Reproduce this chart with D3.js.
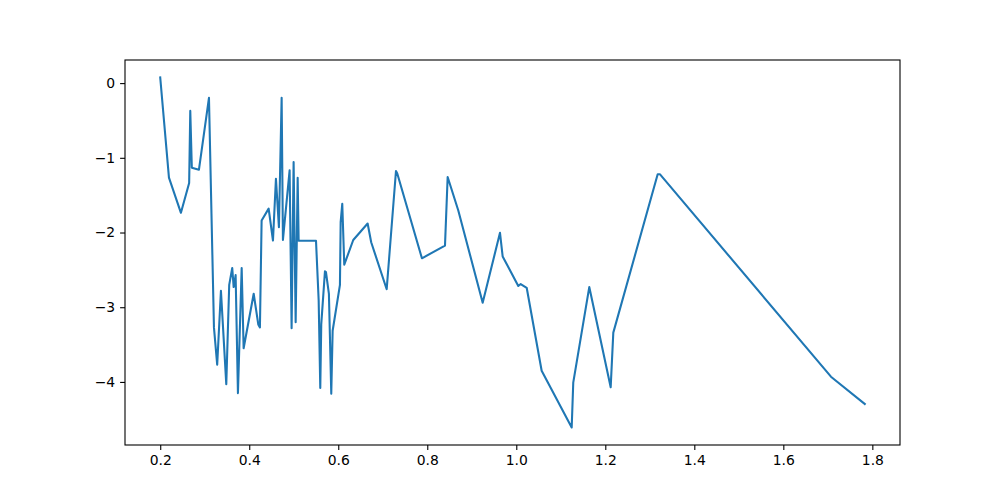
<!DOCTYPE html>
<html><head><meta charset="utf-8">
<script src="https://cdn.jsdelivr.net/npm/d3@7"></script>
<style>body{margin:0;background:#fff}svg{display:block}text{font-family:"DejaVu Sans",sans-serif}</style>
</head><body><svg id="c" width="1000" height="500"></svg>
<script>
const xs = [0.2,0.2196,0.2465,0.265,0.2675,0.271,0.287,0.3095,0.3207,0.328,0.3364,0.3484,0.355,0.3618,0.365,0.3694,0.3746,0.383,0.3874,0.41,0.4203,0.424,0.4278,0.4436,0.4533,0.46,0.4667,0.4728,0.4757,0.4907,0.4952,0.4997,0.5043,0.5088,0.511,0.55,0.556,0.5596,0.5618,0.5701,0.5724,0.579,0.5843,0.5874,0.6038,0.6054,0.609,0.6135,0.6337,0.666,0.674,0.7088,0.7297,0.7326,0.788,0.8398,0.8458,0.8697,0.9245,0.9634,0.9694,1.0045,1.0099,1.0234,1.057,1.1245,1.128,1.164,1.2121,1.218,1.3177,1.323,1.707,1.783];
const ys = [0.075,-1.266,-1.736,-1.338,-0.372,-1.132,-1.159,-0.197,-3.27,-3.77,-2.78,-4.03,-2.70,-2.475,-2.73,-2.57,-4.15,-2.475,-3.55,-2.82,-3.23,-3.27,-1.84,-1.68,-2.107,-1.28,-1.93,-0.197,-2.10,-1.168,-3.28,-1.056,-3.20,-1.266,-2.11,-2.11,-2.91,-4.08,-3.23,-2.52,-2.53,-2.82,-4.157,-3.315,-2.70,-1.86,-1.615,-2.43,-2.10,-1.88,-2.13,-2.76,-1.177,-1.21,-2.345,-2.175,-1.257,-1.705,-2.94,-2.004,-2.32,-2.716,-2.69,-2.74,-3.85,-4.61,-4.01,-2.73,-4.07,-3.34,-1.221,-1.221,-3.93,-4.295];
const xTicks = [0.2,0.4,0.6,0.8,1.0,1.2,1.4,1.6,1.8];
const yTicks = [0,-1,-2,-3,-4];

const L=125,R=900,T=60,B=445;
const svg=d3.select("#c");
const xmin=d3.min(xs),xmax=d3.max(xs),ymin=d3.min(ys),ymax=d3.max(ys);
const xm=(xmax-xmin)*0.05, ym=(ymax-ymin)*0.05;
const x=d3.scaleLinear().domain([xmin-xm,xmax+xm]).range([L,R]);
const y=d3.scaleLinear().domain([ymin-ym,ymax+ym]).range([B,T]);
const data=xs.map((v,i)=>[v,ys[i]]);
svg.append("path").datum(data).attr("fill","none").attr("stroke","#1f77b4").attr("stroke-width",2.08)
  .attr("stroke-linejoin","round").attr("stroke-linecap","square")
  .attr("d",d3.line().x(d=>x(d[0])).y(d=>y(d[1])));
const fmtX=d=>d3.format(".1f")(d);
const fmtY=d=>(d<0?"\u2212":"")+Math.abs(d);
const gx=svg.append("g").attr("transform",`translate(0,${B})`)
  .call(d3.axisBottom(x).tickValues(xTicks).tickFormat(fmtX).tickSize(4.9).tickPadding(4.9).tickSizeOuter(0));
const gy=svg.append("g").attr("transform",`translate(${L},0)`)
  .call(d3.axisLeft(y).tickValues(yTicks).tickFormat(fmtY).tickSize(4.9).tickPadding(4.9).tickSizeOuter(0));
[gx,gy].forEach(g=>{g.select(".domain").remove();g.selectAll("line").attr("stroke","#000").attr("stroke-width",1.1);
  g.selectAll("text").attr("font-size","13.9px").attr("fill","#000").attr("font-family","DejaVu Sans");});
svg.append("rect").attr("x",L).attr("y",T).attr("width",R-L).attr("height",B-T)
  .attr("fill","none").attr("stroke","#000").attr("stroke-width",1.1);
</script></body></html>
